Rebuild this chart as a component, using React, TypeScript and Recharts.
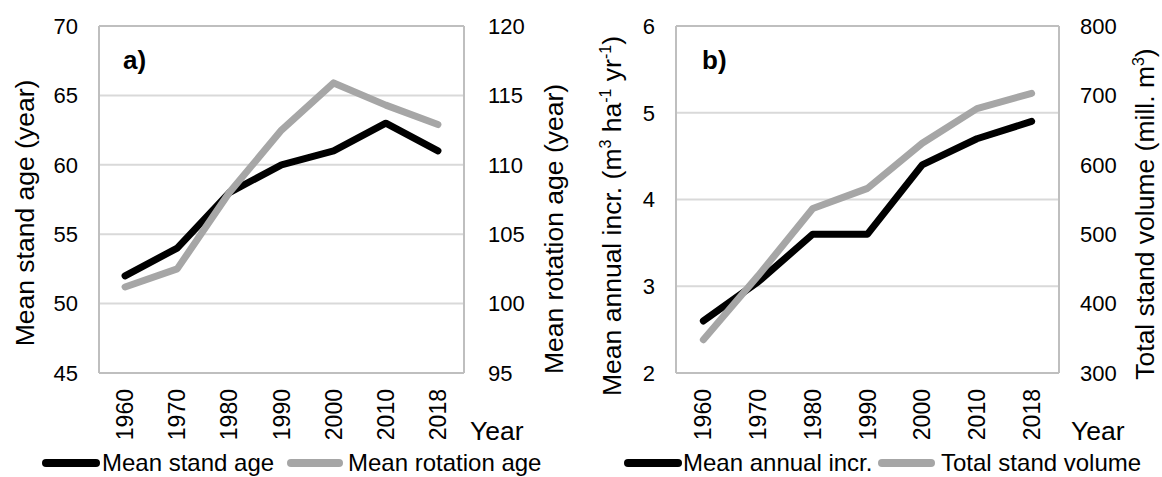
import React from 'react';
import { LineChart, Line, XAxis, YAxis, CartesianGrid, ReferenceLine, Legend } from 'recharts';

const FONT = '"Liberation Sans", Arial, Helvetica, sans-serif';

// ---- data ----
const years = ['1960', '1970', '1980', '1990', '2000', '2010', '2018'];
const meanStandAge = [52, 54, 58, 60, 61, 63, 61];
const meanRotationAge = [101.2, 102.5, 108, 112.5, 115.9, 114.3, 112.9];
const meanAnnualIncr = [2.6, 3.05, 3.6, 3.6, 4.4, 4.7, 4.9];
const totalStandVolume = [348, 440, 537, 566, 631, 681, 703];

const standAgeTicks = [45, 50, 55, 60, 65, 70];
const rotationAgeTicks = [95, 100, 105, 110, 115, 120];
const incrTicks = [2, 3, 4, 5, 6];
const volumeTicks = [300, 400, 500, 600, 700, 800];

const seriesA = [
  { key: 'standAge', name: 'Mean stand age', color: '#000000', axis: 'left' },
  { key: 'rotationAge', name: 'Mean rotation age', color: '#a6a6a6', axis: 'right' },
];
const seriesB = [
  { key: 'incr', name: 'Mean annual incr.', color: '#000000', axis: 'left' },
  { key: 'volume', name: 'Total stand volume', color: '#a6a6a6', axis: 'right' },
];

// title segments: [text, isSuperscript]
const incrTitle: [string, boolean][] = [['Mean annual incr. (m', false], ['3', true], [' ha', false], ['-1', true], [' yr', false], ['-1', true], [')', false]];
const volumeTitle: [string, boolean][] = [['Total stand volume (mill. m', false], ['3', true], [')', false]];

const dataA = years.map((y, i) => ({ year: y, standAge: meanStandAge[i], rotationAge: meanRotationAge[i] }));
const dataB = years.map((y, i) => ({ year: y, incr: meanAnnualIncr[i], volume: totalStandVolume[i] }));

const BORDER = '#bfbfbf';
const GRID = '#d9d9d9';
const TICK_SIZE = 22;
const XTICK_SIZE = 23;
const TICK = { fill: '#000', fontSize: TICK_SIZE, fontFamily: FONT };

const XTick = (props: any) => {
  const { x, y, payload } = props;
  return (
    <text x={x} y={y} transform={`rotate(-90, ${x}, ${y})`} textAnchor="end" dy="0.35em"
      fontSize={XTICK_SIZE} fontFamily={FONT} fill="#000">{payload.value}</text>
  );
};

const vTitle = (cx: number, cy: number, content: React.ReactNode) => () => (
  <text x={cx} y={cy} transform={`rotate(-90, ${cx}, ${cy})`} textAnchor="middle" dy="0.35em"
    fontSize={26.5} fontFamily={FONT} fill="#000">{content}</text>
);

const segments = (parts: [string, boolean][]) => {
  let prevSup = false;
  return parts.map(([t, isSup], i) => {
    let dy = 0;
    if (isSup && !prevSup) dy = -10;
    if (!isSup && prevSup) dy = 10;
    prevSup = isSup;
    return (
      <tspan key={i} dy={dy || undefined} fontSize={isSup ? 16 : undefined}>{t}</tspan>
    );
  });
};

const xLabel = (yearX: number, panelX: number, panel: string) => () => (
  <g>
    <text x={yearX} y={440} fontSize={26.5} fontFamily={FONT} fill="#000">Year</text>
    <text x={panelX} y={69} fontSize={26} fontWeight="bold" fontFamily={FONT} fill="#000">{panel}</text>
  </g>
);

const legendContent = (items: typeof seriesA, pos: { x1: number; x2: number; tx: number }[], w: number) => () => (
  <svg width={w} height={36} style={{ display: 'block' }}>
    {items.map((s, i) => (
      <g key={s.key}>
        <line x1={pos[i].x1} x2={pos[i].x2} y1={18} y2={18} stroke={s.color} strokeWidth={8} strokeLinecap="round" />
        <text x={pos[i].tx} y={18} dy="0.35em" fontSize={24} fontFamily={FONT} fill="#000">{s.name}</text>
      </g>
    ))}
  </svg>
);

export default function App() {
  return (
    <div style={{ position: 'absolute', left: 0, top: 0, width: 1162, height: 477, background: '#fff' }}>
      <div style={{ position: 'absolute', left: 0, top: 0 }}>
        <LineChart width={580} height={477} data={dataA} margin={{ top: 26, right: 0, bottom: 0, left: 0 }}>
          <CartesianGrid yAxisId="left" vertical={false} stroke={GRID} strokeWidth={2} />
          <XAxis dataKey="year" scale="band" interval={0} height={104} tickSize={0} tickMargin={16}
            axisLine={{ stroke: BORDER, strokeWidth: 2 }} tickLine={false}
            tick={(p: any) => <XTick {...p} />} label={xLabel(470, 123, 'a)')} />
          <YAxis yAxisId="left" orientation="left" width={99} domain={[45, 70]} ticks={standAgeTicks} interval={0}
            tickSize={0} tickMargin={21} tickLine={false} axisLine={{ stroke: BORDER, strokeWidth: 2 }} tick={TICK}
            label={vTitle(25, 213, 'Mean stand age (year)')} />
          <YAxis yAxisId="right" orientation="right" width={116} domain={[95, 120]} ticks={rotationAgeTicks} interval={0}
            tickSize={0} tickMargin={24} tickLine={false} axisLine={{ stroke: BORDER, strokeWidth: 2 }} tick={TICK}
            label={vTitle(554, 229, 'Mean rotation age (year)')} />
          <ReferenceLine yAxisId="left" y={70} stroke={BORDER} strokeWidth={2} />
          {seriesA.map((s) => (
            <Line key={s.key} yAxisId={s.axis} dataKey={s.key} name={s.name} stroke={s.color} strokeWidth={7}
              dot={false} activeDot={false} strokeLinecap="round" strokeLinejoin="round" isAnimationActive={false} />
          ))}
          <Legend layout="vertical" align="center" verticalAlign="middle"
            wrapperStyle={{ left: 0, top: 445, width: 580, height: 36 }}
            content={legendContent(seriesA, [{ x1: 46, x2: 96, tx: 102 }, { x1: 291, x2: 339, tx: 348 }], 580)} />
        </LineChart>
      </div>
      <div style={{ position: 'absolute', left: 570, top: 0 }}>
        <LineChart width={592} height={477} data={dataB} margin={{ top: 26, right: 0, bottom: 0, left: 0 }}>
          <CartesianGrid yAxisId="left" vertical={false} stroke={GRID} strokeWidth={2} />
          <XAxis dataKey="year" scale="band" interval={0} height={104} tickSize={0} tickMargin={16}
            axisLine={{ stroke: BORDER, strokeWidth: 2 }} tickLine={false}
            tick={(p: any) => <XTick {...p} />} label={xLabel(501, 132, 'b)')} />
          <YAxis yAxisId="left" orientation="left" width={106} domain={[2, 6]} ticks={incrTicks} interval={0}
            tickSize={0} tickMargin={21} tickLine={false} axisLine={{ stroke: BORDER, strokeWidth: 2 }} tick={TICK}
            label={vTitle(42, 216, segments(incrTitle))} />
          <YAxis yAxisId="right" orientation="right" width={103} domain={[300, 800]} ticks={volumeTicks} interval={0}
            tickSize={0} tickMargin={21} tickLine={false} axisLine={{ stroke: BORDER, strokeWidth: 2 }} tick={TICK}
            label={vTitle(575, 214, segments(volumeTitle))} />
          <ReferenceLine yAxisId="left" y={6} stroke={BORDER} strokeWidth={2} />
          {seriesB.map((s) => (
            <Line key={s.key} yAxisId={s.axis} dataKey={s.key} name={s.name} stroke={s.color} strokeWidth={7}
              dot={false} activeDot={false} strokeLinecap="round" strokeLinejoin="round" isAnimationActive={false} />
          ))}
          <Legend layout="vertical" align="center" verticalAlign="middle"
            wrapperStyle={{ left: 0, top: 445, width: 592, height: 36 }}
            content={legendContent(seriesB, [{ x1: 58, x2: 108, tx: 113 }, { x1: 312, x2: 361, tx: 371 }], 592)} />
        </LineChart>
      </div>
    </div>
  );
}
